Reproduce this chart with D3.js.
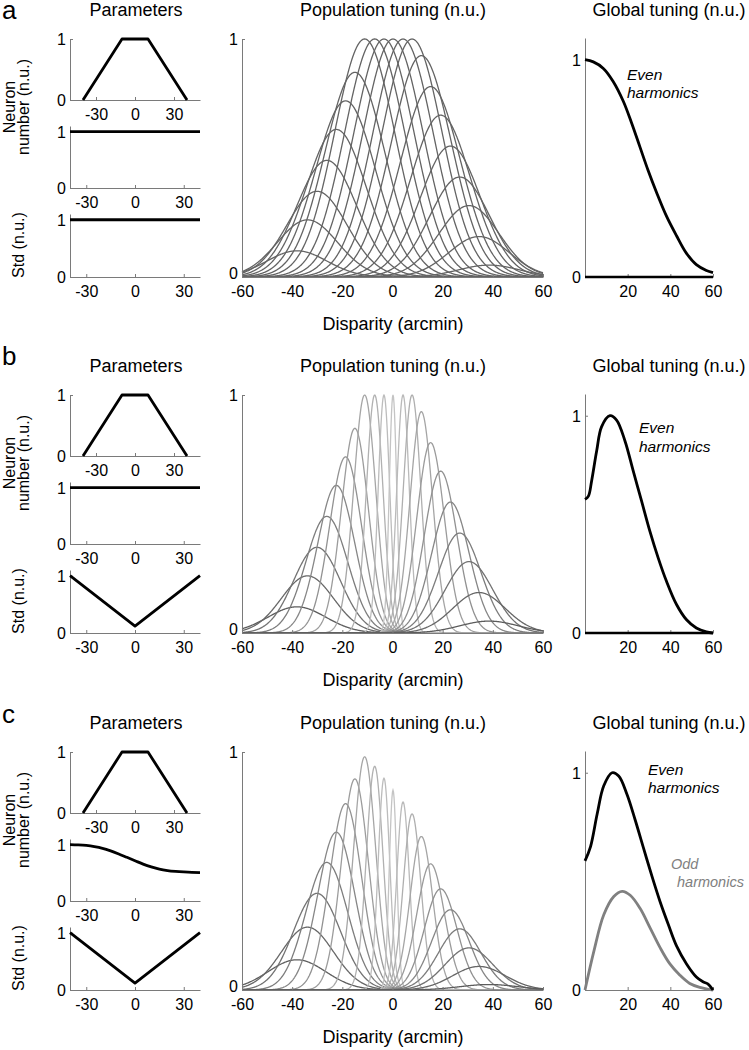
<!DOCTYPE html>
<html><head><meta charset="utf-8">
<script src="https://cdn.jsdelivr.net/npm/d3@7"></script>
<style>
body{margin:0;background:#fff}
text{font-family:Arial,"Liberation Sans",Helvetica,sans-serif}
</style>
</head><body>
<svg id="fig" width="749" height="1050"></svg>
<script>
// ---------------- DATA ----------------
const panelLetters = ["a", "b", "c"];
const paramTicks = [-30, 0, 30];
const popTicks = [-60, -40, -20, 0, 20, 40, 60];
const globalTicks = [20, 40, 60];
const unitTicks = [0, 1];

// Parameters: neuron number over preferred disparity (trapezoid, same in a,b,c)
const trapezoidX = [-40, -10, 10, 40];
const trapezoidY = [0, 1, 1, 0];
// Parameters: second plot (neuron number modulation)
const flatX = [-40, 40];
const flatY = [1, 1];
const sigmoidX = [-40, -35, -30, -25, -20, -15, -10, -5, 0, 5, 10, 15, 20, 25, 30, 35, 40];
const sigmoidY = [1.0, 0.995, 0.985, 0.965, 0.935, 0.89, 0.835, 0.775, 0.715, 0.655, 0.605, 0.565, 0.54, 0.525, 0.515, 0.508, 0.505];
// Parameters: std
const stdVX = [-40, 0, 40];
const stdVY = [1, 0.12, 1];

// Population tuning: preferred disparity of each sub-population (arcmin)
const prefDisparity = [-38.1, -33.9, -30.1, -26.2, -22.4, -18.7, -15.0, -11.1, -7.1, -3.4, 0.2, 4.2, 7.8, 11.5, 15.2, 19.2, 23.1, 26.8, 30.5, 34.5, 38.5];
// peak heights (n.u.)
const peakA = [0.11, 0.24, 0.36, 0.49, 0.62, 0.74, 0.86, 1, 1, 1, 1, 1, 1, 0.93, 0.80, 0.68, 0.55, 0.42, 0.30, 0.17, 0.05];
const peakB = [0.11, 0.24, 0.36, 0.49, 0.62, 0.74, 0.86, 1, 1, 1, 1, 1, 1, 0.93, 0.80, 0.68, 0.55, 0.42, 0.30, 0.17, 0.05];
const peakC = [0.127, 0.264, 0.406, 0.536, 0.663, 0.783, 0.887, 0.98, 0.94, 0.89, 0.84, 0.79, 0.74, 0.645, 0.53, 0.425, 0.337, 0.257, 0.177, 0.099, 0.023];
// tuning widths (std, arcmin)
const widthA = [12, 12, 12, 12, 12, 12, 12, 12, 12, 12, 12, 12, 12, 12, 12, 12, 12, 12, 12, 12, 12];
const widthBC = [11.5, 10.4, 9.4, 8.4, 7.4, 6.4, 5.4, 4.4, 3.3, 2.3, 1.5, 2.5, 3.5, 4.5, 5.5, 6.5, 7.5, 8.5, 9.5, 10.5, 11.6];

// Global tuning curves (x in arcmin, y in n.u.)
const evenAX = [0, 3.9, 8.6, 13.2, 17.9, 21.8, 25.7, 29.6, 33.5, 38.2, 42.9, 47.5, 52.2, 56.9, 60];
const evenAY = [1.0, 0.99, 0.96, 0.90, 0.81, 0.71, 0.60, 0.49, 0.39, 0.28, 0.19, 0.11, 0.057, 0.03, 0.02];
const evenBX = [0, 1.6, 3.1, 5.5, 7.8, 11.7, 14.8, 18.7, 22.6, 26.5, 30.4, 34.3, 38.2, 42.9, 47.5, 52.2, 56.9, 60];
const evenBY = [0.615, 0.63, 0.70, 0.84, 0.95, 1.0, 0.98, 0.885, 0.746, 0.608, 0.469, 0.346, 0.238, 0.131, 0.062, 0.023, 0.005, 0.0];
const evenCX = [0, 2.6, 5.7, 8.8, 12.7, 15.8, 19.7, 23.6, 27.4, 31.3, 35.2, 39.1, 42.9, 47.6, 52.2, 55.3, 57.7, 60];
const evenCY = [0.594, 0.66, 0.81, 0.94, 1.0, 0.985, 0.90, 0.78, 0.654, 0.526, 0.406, 0.30, 0.203, 0.12, 0.06, 0.038, 0.027, 0.0];
const oddX = [0, 4.2, 8.8, 13.5, 17.4, 21.2, 25.8, 30.5, 35.2, 39.8, 44.5, 49.1, 53.8, 60];
const oddCY = [0, 0.18, 0.346, 0.43, 0.454, 0.436, 0.376, 0.286, 0.195, 0.12, 0.068, 0.03, 0.012, 0.0];
const oddZeroX = [0, 60];
const oddZeroY = [0, 0];

// ---------------- DRAW ----------------
const svg = d3.select("#fig");
const offsets = [0, 356, 713];
const axisColor = "#7a7a7a";

function styleAxis(g, fs) {
  g.selectAll("path.domain").attr("stroke", axisColor).attr("stroke-width", 1);
  g.selectAll(".tick line").attr("stroke", axisColor);
  g.selectAll("text").attr("font-size", fs).attr("fill", "#000").attr("font-family", "Arial, 'Liberation Sans', sans-serif");
}
function drawAxes(x, y, xt, yt, fs, zeroLift) {
  const gx = svg.append("g").attr("transform", `translate(0,${y.range()[0]})`)
    .call(d3.axisBottom(x).tickValues(xt).tickSize(-3).tickSizeOuter(0).tickPadding(5).tickFormat(d3.format("d")));
  const gy = svg.append("g").attr("transform", `translate(${x.range()[0]},0)`)
    .call(d3.axisLeft(y).tickValues(yt).tickSize(-3).tickSizeOuter(0).tickPadding(4).tickFormat(d3.format("d")));
  gx.selectAll("text").text(d => String(d)).attr("dy", "0.95em");
  gy.selectAll("text").attr("dy", d => (d === 0 && zeroLift) ? "0.1em" : "0.36em");
  styleAxis(gx, fs); styleAxis(gy, fs);
}
function polyline(x, y, xs, ys, color, width, curve) {
  const pts = xs.map((v, i) => [v, ys[i]]);
  svg.append("path").datum(pts)
    .attr("d", d3.line().x(d => x(d[0])).y(d => y(d[1])).curve(curve || d3.curveLinear))
    .attr("fill", "none").attr("stroke", color).attr("stroke-width", width)
    .attr("stroke-linejoin", "round");
}
function text(x, y, s, opts) {
  const t = svg.append("text").attr("x", x).attr("y", y).text(s)
    .attr("font-size", opts.size || 18).attr("fill", opts.fill || "#000");
  if (opts.anchor) t.attr("text-anchor", opts.anchor);
  if (opts.italic) t.attr("font-style", "italic");
  if (opts.rotate) t.attr("transform", `rotate(-90,${x},${y})`);
  return t;
}

const peaks = [peakA, peakB, peakC];
const widths = [widthA, widthBC, widthBC];
const midX = [flatX, flatX, sigmoidX];
const midY = [flatY, flatY, sigmoidY];
const botX = [flatX, stdVX, stdVX];
const botY = [flatY, stdVY, stdVY];
const evenX = [evenAX, evenBX, evenCX];
const evenY = [evenAY, evenBY, evenCY];
const labelBase = [19, 365, 723];

panelLetters.forEach((letter, p) => {
  const oy = offsets[p];
  // panel letter & titles
  text(2, labelBase[p], letter, {size: 26});
  text(136, 16 + oy, "Parameters", {anchor: "middle"});
  text(393, 16 + oy, "Population tuning (n.u.)", {anchor: "middle"});
  text(669, 16 + oy, "Global tuning (n.u.)", {anchor: "middle"});

  // rotated labels
  text(15, 107 + oy, "Neuron", {size: 16, anchor: "middle", rotate: true});
  text(29, 107 + oy, "number (n.u.)", {size: 16, anchor: "middle", rotate: true});
  text(24, 245 + oy, "Std (n.u.)", {size: 16, anchor: "middle", rotate: true});

  // --- parameter plot 1
  const x1 = d3.scaleLinear().domain([-50, 50]).range([70, 200]);
  const y1 = d3.scaleLinear().domain([0, 1]).range([100 + oy, 39 + oy]);
  drawAxes(x1, y1, paramTicks, unitTicks, 16);
  polyline(x1, y1, trapezoidX, trapezoidY, "#000", 2.8);

  // --- parameter plot 2
  const x2 = d3.scaleLinear().domain([-40, 40]).range([70, 200]);
  const y2 = d3.scaleLinear().domain([0, 1.1]).range([188 + oy, 126 + oy]);
  drawAxes(x2, y2, paramTicks, unitTicks, 16);
  polyline(x2, y2, midX[p], midY[p], "#000", 2.8, d3.curveMonotoneX);

  // --- parameter plot 3
  const y3 = d3.scaleLinear().domain([0, 1.1]).range([277 + oy, 214 + oy]);
  drawAxes(x2, y3, paramTicks, unitTicks, 16);
  polyline(x2, y3, botX[p], botY[p], "#000", 2.8);

  // --- population tuning
  const xp = d3.scaleLinear().domain([-60, 60]).range([242, 543]);
  const yp = d3.scaleLinear().domain([0, 1]).range([277 + oy, 39 + oy]);
  const wList = widths[p];
  const shade = d3.scaleLinear().domain([1.5, 12]).range(["#c4c4c4", "#585858"]).clamp(true);
  const grid = d3.range(-60, 60.001, 0.2);
  prefDisparity.forEach((c, i) => {
    const a = peaks[p][i], s = wList[i];
    const pts = grid.map(v => [v, a * Math.exp(-((v - c) * (v - c)) / (2 * s * s))]);
    svg.append("path").datum(pts)
      .attr("d", d3.line().x(d => xp(d[0])).y(d => yp(d[1])))
      .attr("fill", "none")
      .attr("stroke", p === 0 ? "#646464" : shade(s))
      .attr("stroke-width", 1.3);
  });
  drawAxes(xp, yp, popTicks, unitTicks, 16, true);
  text(393, 330 + oy, "Disparity (arcmin)", {anchor: "middle"});

  // --- global tuning
  const xg = d3.scaleLinear().domain([0, 60]).range([585, 713]);
  const yg = d3.scaleLinear().domain([0, 1.1]).range([277 + oy, 38 + oy]);
  drawAxes(xg, yg, globalTicks, unitTicks, 16);
  if (p < 2) {
    polyline(xg, yg, oddZeroX, oddZeroY, "#000", 2.4);
  } else {
    polyline(xg, yg, oddX, oddCY, "#808080", 2.8, d3.curveCatmullRom);
  }
  polyline(xg, yg, evenX[p], evenY[p], "#000", 2.8, d3.curveCatmullRom);
});

// harmonic labels
text(627, 80, "Even", {size: 15.5, italic: true});
text(627, 98, "harmonics", {size: 15.5, italic: true});
text(639, 433, "Even", {size: 15.5, italic: true});
text(639, 452, "harmonics", {size: 15.5, italic: true});
text(648, 775, "Even", {size: 15.5, italic: true});
text(648, 793, "harmonics", {size: 15.5, italic: true});
text(671, 869, "Odd", {size: 14.5, italic: true, fill: "#808080"});
text(677, 887, "harmonics", {size: 14.5, italic: true, fill: "#808080"});
</script>
</body></html>
